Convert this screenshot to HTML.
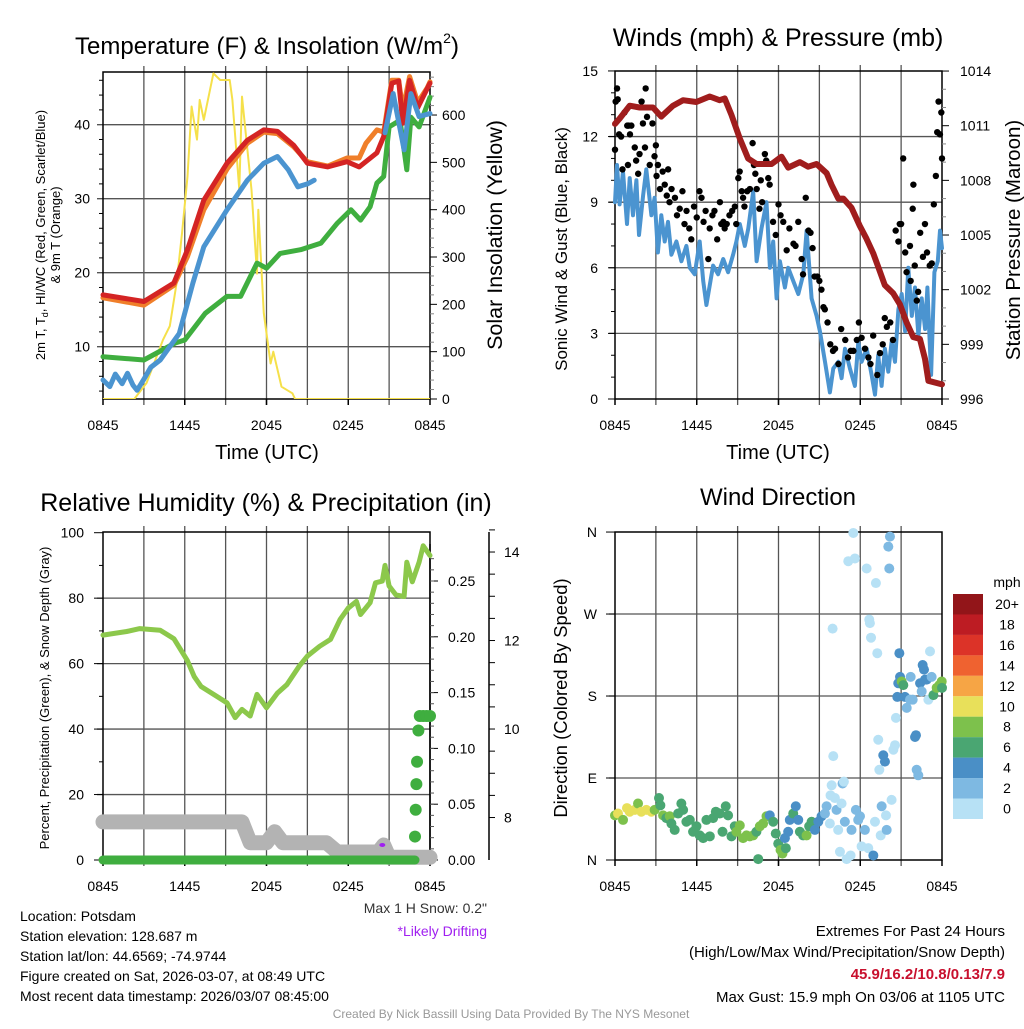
<!DOCTYPE html>
<html><head><meta charset="utf-8">
<style>
html,body{margin:0;padding:0;background:#fff;}
body{width:1024px;height:1024px;overflow:hidden;font-family:"Liberation Sans",sans-serif;}
svg text{font-family:"Liberation Sans",sans-serif;}
</style></head>
<body>
<svg id="chart" width="1024" height="1024" viewBox="0 0 1024 1024" xmlns="http://www.w3.org/2000/svg">
<g id="g"></g>
</svg>
<script>
// ---------- DATA (time = hours since 0845 UTC) ----------
const xTickLabels = ["0845","1445","2045","0245","0845"];
// Temperature panel
const tempT   = [0,3.0,5.2,6.2,7.4,9.1,10.6,11.8,12.8,14.0,15.0,16.5,17.9,18.8,20.1,20.6,21.2,21.7,22.0,22.5,23.1,23.8,24];
const tempV   = [17.0,16.1,18.6,23.1,29.8,34.8,37.9,39.3,39.1,37.2,34.8,34.3,35.0,34.3,36.2,38.4,45.6,45.9,40.2,46.0,42.3,44.9,45.6];
const t9T     = [0,3.0,5.2,6.2,7.4,9.1,10.6,11.8,12.8,14.0,15.0,16.5,17.9,18.8,19.3,20.1,20.6,21.2,21.7,22.0,22.5,23.1,23.8,24];
const t9V     = [16.6,15.6,18.3,22.2,28.5,34.0,37.5,39.0,38.8,37.0,35.0,34.4,35.5,35.5,37.5,39.3,39.0,46.0,46.0,42.0,46.5,43.0,45.0,45.8];
const dewT    = [0,0.5,0.9,1.4,1.8,2.2,2.5,3.0,3.5,4.2,5.6,6.6,7.4,9.1,10.6,11.8,12.8,13.6,14.3,15.0,15.5,null,17.9,null,20.7,21.3,22.1,22.6,23.2,24];
const dewV    = [5.5,4.6,6.3,5.0,6.4,4.8,4.1,5.6,7.2,8.2,11.8,18.6,23.5,28.5,32.5,34.8,35.7,33.9,31.6,32.0,32.5,null,33.2,null,38.9,44.2,36.6,44.2,41.1,41.5];
const hiT     = [0,3.0,5.3,6.0,7.5,9.1,10.1,11.3,12.0,13.0,14.5,16.0,17.2,18.2,18.9,19.6,20.1,20.6,21.0,21.8,22.3,22.6,23.2,24];
const hiV     = [8.65,8.2,10.5,10.9,14.5,16.8,16.8,21.3,20.6,22.6,23.1,24.0,26.7,28.5,27.1,28.9,32.1,33.0,39.7,40.6,33.9,41.0,39.7,43.7];
const solT    = [0,2.3,3.2,4.4,4.9,5.4,5.8,6.2,6.5,6.9,7.1,7.4,8.1,8.6,9.3,9.5,10.0,10.2,10.9,11.3,11.4,11.8,12.3,12.5,13.1,13.9,14.1,24];
const solV    = [0,0,34,125,154,245,350,470,618,548,632,590,688,674,674,632,442,639,442,265,400,181,75,100,26,12,0,0];
// Wind panel
const windT = [0,0.15,0.34,0.59,0.88,1.08,1.32,1.57,1.76,2.06,2.30,2.67,2.91,3.15,3.40,3.65,3.89,4.14,4.51,4.87,5.24,5.49,5.85,6.22,6.47,6.71,7.20,7.57,7.94,8.30,8.67,8.91,9.16,9.53,9.78,10.14,10.39,10.75,11.12,11.37,11.61,11.86,12.10,12.47,12.71,13.08,13.45,13.82,14.06,14.43,14.80,15.04,15.41,15.77,16.02,16.39,16.63,16.88,17.24,17.61,17.86,18.10,18.47,18.83,19.08,19.32,19.57,19.81,20.06,20.30,20.55,20.80,21.04,21.29,21.53,21.78,22.02,22.27,22.51,22.76,22.93,23.20,23.44,23.69,23.85,24];
const windV = [9.0,10.7,8.9,10.4,8.0,10.1,8.4,10.0,7.5,9.3,10.5,8.4,9.2,6.7,8.4,7.2,8.1,6.6,7.2,6.3,7.0,6.0,5.7,7.2,5.4,4.3,6.1,5.7,6.4,5.8,6.6,7.2,8.0,7.0,7.8,9.5,6.3,7.8,9.0,6.0,7.2,4.6,6.3,5.1,6.0,5.4,4.8,5.7,7.7,4.6,3.8,3.1,1.7,0.3,1.4,1.7,0.95,2.3,1.4,0.6,2.6,1.7,2.3,1.1,0.2,2.0,0.6,2.3,1.25,2.6,1.7,4.1,4.8,3.1,6.0,3.8,5.1,2.9,4.6,3.2,5.1,1.1,5.8,6.3,7.7,6.9];
const gustT = [0,0.05,0.15,0.2,0.3,0.45,0.55,0.7,0.9,0.95,1.0,1.1,1.2,1.45,1.55,1.7,1.8,1.95,2.05,2.2,2.25,2.35,2.55,2.75,2.9,3.0,3.05,3.15,3.3,3.5,3.65,3.8,3.9,4.0,4.15,4.4,4.55,4.75,4.95,5.1,5.25,5.45,5.6,5.8,6.0,6.2,6.35,6.5,6.65,6.85,6.95,7.15,7.3,7.5,7.7,7.8,7.95,8.05,8.2,8.4,8.6,8.8,8.9,9.05,9.15,9.3,9.4,9.5,9.7,9.9,10.1,10.2,10.3,10.4,10.6,10.7,10.8,11.0,11.1,11.25,11.35,11.6,11.8,12.0,12.15,12.35,12.6,12.8,13.1,13.25,13.45,13.7,13.8,14.0,14.2,14.35,14.5,14.65,14.85,15.0,15.15,15.3,15.4,15.6,15.8,16.0,16.15,16.4,16.6,16.9,17.1,17.3,17.5,17.75,17.9,18.1,18.35,18.6,18.75,18.95,19.25,19.45,19.65,19.8,19.95,20.2,20.4,20.6,20.8,20.9,21.0,21.15,21.3,21.4,21.65,21.7,21.85,21.9,22.0,22.15,22.25,22.4,22.6,22.75,22.9,23.1,23.25,23.4,23.55,23.65,23.75,23.85,23.95,24];
const gustV = [11.4,13.6,14.2,13.7,12.1,12.0,10.5,13.1,12.5,10.7,12.5,12.1,12.5,11.5,10.9,10.3,11.2,13.6,12.6,11.5,14.2,12.9,10.7,12.6,11.1,11.6,10.2,10.7,9.6,10.4,9.8,9.3,10.5,9.0,9.6,9.2,8.4,8.7,9.5,8.0,8.6,7.8,7.3,8.8,8.3,9.5,9.2,8.1,8.6,6.4,7.8,8.4,8.6,7.3,9.0,8.0,8.1,7.8,8.0,8.4,8.6,8.8,8.0,10.1,10.4,9.5,9.2,8.8,9.5,9.6,11.7,10.7,10.3,9.6,8.7,10.0,9.0,11.2,10.9,10.1,9.8,8.1,7.5,8.9,8.4,8.1,6.8,7.8,7.1,7.0,8.1,6.4,5.7,9.2,7.7,7.6,6.9,5.6,5.6,5.4,5.0,4.2,4.1,3.5,2.5,2.2,2.3,1.6,3.2,2.7,1.9,2.2,2.2,2.7,3.5,2.8,2.3,1.9,1.6,2.9,1.1,2.1,2.5,3.7,3.3,3.5,2.7,7.7,7.2,8.0,8.0,11.0,6.7,5.8,7.0,5.4,8.7,9.8,6.1,4.5,4.9,7.6,6.5,8.0,6.7,6.1,6.2,8.9,10.2,12.2,13.6,12.1,13.1,11.0];
const presT = [0,0.35,1.08,1.81,2.79,3.4,4.26,4.99,5.97,6.95,7.68,8.05,8.54,9.16,9.77,10.39,11.49,12.22,12.71,13.57,14.18,14.8,15.53,15.9,16.39,16.76,17.36,17.97,18.46,18.95,19.44,19.8,20.42,20.91,21.4,21.89,22.38,22.75,23.0,24];
const presV = [1011.1,1011.4,1012.1,1012.0,1012.0,1011.5,1012.1,1012.4,1012.3,1012.6,1012.4,1012.5,1011.6,1010.3,1009.2,1008.9,1008.9,1009.3,1008.7,1009.0,1008.75,1008.9,1008.4,1007.75,1007.0,1007.0,1006.5,1005.5,1004.8,1004.0,1003.0,1002.25,1001.8,1001.2,1000.2,999.4,999.3,998.2,997.0,996.8];
// RH / precip / snow panel
const rhT = [0,1.74,2.7,4.2,5.2,6.18,6.7,7.2,8.4,9.1,9.7,10.2,10.8,11.3,12.0,12.8,13.5,14.4,15.0,15.9,16.7,17.4,18.0,18.6,18.9,19.6,20.0,20.5,20.7,21.0,21.5,22.1,22.3,22.7,23.2,23.5,24];
const rhV = [68.7,69.8,70.7,70.2,67.6,61,56,53,49.9,48,43.5,46,44,50.6,46.5,51,53.6,59.2,62.3,65.3,67.4,73.5,77,79,75,78.6,84.7,85.2,90,83.7,81,80.5,91,85,91,96,93];
const snowT = [0,10.2,10.8,12.0,12.6,13.2,16.4,17.2,20.2,20.6,21.0,24];
const snowV = [7.9,7.9,7.43,7.43,7.68,7.43,7.43,7.22,7.22,7.38,7.1,7.1];
const precipDotT = [22.9,22.95,23.0,23.05,23.15,23.25,23.5,23.75,24.0];
const precipDotV = [0.021,0.045,0.068,0.088,0.116,0.129,0.129,0.129,0.129];
// Wind direction panel
const dirT = [0,0.22,0.59,0.88,1.08,1.45,1.69,1.93,2.3,2.67,2.91,3.23,3.33,3.53,3.77,4.02,4.14,4.38,4.63,4.87,5.0,5.24,5.49,5.73,5.98,6.22,6.47,6.71,6.96,7.2,7.4,7.69,7.89,8.13,8.3,8.55,8.79,8.91,9.16,9.4,9.65,9.89,10.14,10.38,10.63,10.87,11.12,10.51,11.36,11.61,11.8,11.98,12.15,12.29,12.54,12.47,12.71,12.83,13.08,13.27,13.45,13.57,13.81,14.06,14.25,14.43,14.67,14.92,15.16,15.41,15.53,15.77,15.9,15.82,16.02,15.97,16.14,16.26,16.38,16.51,16.63,16.7,16.8,16.87,17.0,17.12,17.29,17.36,17.49,17.61,17.68,17.85,17.98,18.1,18.34,18.47,18.59,18.66,18.71,18.79,18.96,19.08,19.15,19.25,19.32,19.4,19.5,19.57,19.69,19.81,19.89,19.94,20.06,20.13,20.18,20.3,20.43,20.55,20.62,20.72,20.79,20.87,20.92,21.04,21.16,21.28,21.41,21.65,21.7,21.85,22.02,22.09,22.14,22.26,22.39,22.51,22.58,22.68,22.75,22.88,23.0,23.12,23.24,23.37,23.61,23.81,23.98,24];
const dirV = [49,51,44,57,53,55,62,53,55,53,55,68,60,49,46,48,40,33,51,62,55,42,44,31,37,27,24,44,26,46,53,51,31,59,49,26,37,31,38,24,27,26,27,31,37,40,48,1,49,42,29,18,11,7,13,24,31,44,51,59,44,31,27,27,37,42,33,42,48,51,59,40,82,71,114,254,68,55,33,9,62,84,86,42,1,328,5,33,359,331,55,44,48,15,33,320,13,264,260,244,5,42,304,227,132,99,27,59,115,108,49,33,344,320,355,66,121,126,156,179,194,227,201,196,192,179,167,176,201,176,135,137,99,93,194,185,214,209,198,198,176,229,201,181,189,192,196,189];
const dirSpd = [8,10,8,10,10,10,8,10,10,10,8,6,6,8,6,8,6,6,6,6,6,6,6,6,6,6,6,6,6,6,6,6,6,6,6,6,6,8,8,8,8,8,8,6,8,8,8,6,4,6,6,6,8,8,6,4,4,4,6,4,4,6,6,8,6,6,4,4,4,2,2,0,0,0,0,0,0,2,0,0,0,2,0,2,0,0,0,2,0,0,2,2,2,0,2,0,0,0,0,0,4,0,0,0,0,0,0,2,4,4,0,2,2,2,2,0,0,0,0,4,4,4,4,8,6,4,2,2,2,2,4,4,2,2,4,2,4,4,4,4,0,0,2,6,8,8,8,6];
const cbLabels = ["20+","18","16","14","12","10","8","6","4","2","0"];
const cbColors = ["#921519","#bd1c23","#dc3328","#ef6230","#f6a545","#e8e05a","#7dc14c","#4aa672","#4a8fc6","#7eb9e2","#b7e1f5"];

// ---------- SCALES ----------
const PW = 327;
function xL(t){return 103 + t*PW/24;}
function xR(t){return 615 + t*PW/24;}
function yT(v){return 399-(v-2.93)*7.4;}
function yS(w){return 399-w*0.4733;}
function yW(v){return 399-v*21.87;}
function yP(p){return 399-(p-996)*18.22;}
function yRH(v){return 860-v*3.273;}
function yPr(v){return 860-v*1116;}
function ySn(v){return 860-(v-7.04)*44.25;}
function yD(d){return 860-d*0.911;}
function spdColor(s){return cbColors[10-Math.min(10,Math.round(s/2))];}

const NS="http://www.w3.org/2000/svg";
const root=document.getElementById('g');
function el(tag,attrs,parent){const e=document.createElementNS(NS,tag);for(const k in attrs)e.setAttribute(k,attrs[k]);(parent||root).appendChild(e);return e;}
function txt(s,x,y,size,anchor,parent,extra){const e=el('text',Object.assign({x:x,y:y,'font-size':size,'text-anchor':anchor||'middle',fill:'#000'},extra||{}),parent);e.textContent=s;return e;}
function pathFrom(T,V,xf,yf){let d='',pen=false;for(let i=0;i<T.length;i++){if(T[i]===null||V[i]===null){pen=false;continue;}d+=(pen?'L':'M')+xf(T[i]).toFixed(1)+' '+yf(V[i]).toFixed(1)+' ';pen=true;}return d;}

// ---------- generic frame ----------
function frame(x0,name,ys,hlines){
  const g=el('g',{});
  
  
  for(let i=1;i<8;i++){const x=x0+i*PW/8;el('line',{x1:x,x2:x,y1:ys[0]-6,y2:ys[1]+6,stroke:'#555','stroke-width':1.3},g);}
  hlines.forEach(y=>el('line',{x1:x0-6,x2:x0+PW,y1:y,y2:y,stroke:'#555','stroke-width':1.3},g));
  el('rect',{x:x0,y:ys[0],width:PW,height:ys[1]-ys[0],fill:'none',stroke:'#000','stroke-width':1.5},g);
  for(let i=0;i<=8;i+=2){el('line',{x1:x0+i*PW/8,x2:x0+i*PW/8,y1:ys[1],y2:ys[1]+6,stroke:'#000','stroke-width':1.5},g);}
  xTickLabels.forEach((s,i)=>{const l=txt(s,x0+i*PW/4,ys[1]+31,14,'middle',g);});
  return g;
}

// ===== Panel 1: Temperature =====
{const t=el('text',{x:267,y:54,'font-size':24,'text-anchor':'middle',fill:'#000'});


t.innerHTML='Temperature (F) &amp; Insolation (W/m<tspan font-size="14" dy="-11">2</tspan><tspan dy="11">)</tspan>';}
frame(103,'temperature',[72,399],[10,20,30,40].map(yT));
[10,20,30,40].forEach(v=>{const l=txt(String(v),90,yT(v)+5,14,'end');});
for(let v=4;v<=46;v+=2){if(v%10)el('line',{x1:99,x2:103,y1:yT(v),y2:yT(v),stroke:'#000'});}
[0,100,200,300,400,500,600].forEach(v=>{el('line',{x1:430,x2:437,y1:yS(v),y2:yS(v),stroke:'#000'});const l=txt(String(v),442,yS(v)+5,14,'start');});
for(let v=20;v<=680;v+=20){if(v%100)el('line',{x1:430,x2:434,y1:yS(v),y2:yS(v),stroke:'#888'});}
txt('Time (UTC)',267,459,20,'middle');
{const t=el('text',{'font-size':13,'text-anchor':'middle',fill:'#000',transform:'translate(45,235) rotate(-90)'});
t.innerHTML='2m T, T<tspan font-size="9" dy="3">d</tspan><tspan dy="-3">, HI/WC (Red, Green, Scarlet/Blue)</tspan>';}
txt('& 9m T (Orange)',0,0,13,'middle',root,{transform:'translate(60,235) rotate(-90)'});
txt('Solar Insolation (Yellow)',0,0,21.5,'middle',root,{transform:'translate(502,235) rotate(-90)'});
const clip1=el('clipPath',{id:'c1'});el('rect',{x:103,y:72,width:PW,height:327},clip1);
function series(T,V,xf,yf,color,w,name,clip){const p=el('path',{d:pathFrom(T,V,xf,yf),fill:'none',stroke:color,'stroke-width':w,'stroke-linejoin':'round','stroke-linecap':'round','clip-path':clip?'url(#'+clip+')':''});return p;}
series(solT,solV,xL,yS,'#f5e04a',2,'solar-insolation-line','c1');
series(hiT,hiV,xL,yT,'#3fae3f',5,'heat-index-wind-chill-line');
series(t9T,t9V,xL,yT,'#f07f2a',5,'9m-temperature-line');
series(tempT,tempV,xL,yT,'#d42424',5,'2m-temperature-line');
series(dewT,dewV,xL,yT,'#4b94d0',5,'dewpoint-line');

// ===== Panel 2: Winds =====
txt('Winds (mph) & Pressure (mb)',778,46,25,'middle');
frame(615,'winds',[71,399],[3,6,9,12].map(yW));
[0,3,6,9,12,15].forEach(v=>{const l=txt(String(v),598,yW(v)+5,14,'end');el('line',{x1:608,x2:615,y1:yW(v),y2:yW(v),stroke:'#000'});});
for(let v=1;v<15;v++){if(v%3)el('line',{x1:611,x2:615,y1:yW(v),y2:yW(v),stroke:'#000'});}
[996,999,1002,1005,1008,1011,1014].forEach(v=>{el('line',{x1:942,x2:949,y1:yP(v),y2:yP(v),stroke:'#000'});const l=txt(String(v),960,yP(v)+5,14,'start');});
for(let v=997;v<1014;v++){if((v-996)%3)el('line',{x1:942,x2:946,y1:yP(v),y2:yP(v),stroke:'#888'});}
txt('Time (UTC)',778,459,20,'middle');
txt('Sonic Wind & Gust (Blue, Black)',0,0,17,'middle',root,{transform:'translate(567,249) rotate(-90)'});
txt('Station Pressure (Maroon)',0,0,20.5,'middle',root,{transform:'translate(1020,240) rotate(-90)'});
series(windT,windV,xR,yW,'#4b94d0',4,'sonic-wind-line');
{const g=el('g',{});
for(let i=0;i<gustT.length;i++){const c=el('circle',{cx:xR(gustT[i]),cy:yW(gustV[i]),r:3.2,fill:'#000'},g);}}
series(presT,presV,xR,yP,'#a01d1d',6,'pressure-line');

// ===== Panel 3: RH =====
txt('Relative Humidity (%) & Precipitation (in)',266,511,25,'middle');
frame(103,'rh',[532,860],[20,40,60,80].map(yRH));
[0,20,40,60,80,100].forEach(v=>{el('line',{x1:94,x2:103,y1:yRH(v),y2:yRH(v),stroke:'#000'});const l=txt(String(v),84,yRH(v)+5,14,'end');});
for(let v=10;v<100;v+=20)el('line',{x1:99,x2:103,y1:yRH(v),y2:yRH(v),stroke:'#000'});
el('line',{x1:430,x2:430,y1:544,y2:860,stroke:'#000','stroke-width':1.5});
[0,0.05,0.1,0.15,0.2,0.25].forEach(v=>{el('line',{x1:430,x2:438,y1:yPr(v),y2:yPr(v),stroke:'#000'});const l=txt(v.toFixed(2),448,yPr(v)+5,14,'start');});
for(let v=0.01;v<0.28;v+=0.01){el('line',{x1:430,x2:434,y1:yPr(v),y2:yPr(v),stroke:'#555'});}
el('line',{x1:489,x2:489,y1:532,y2:860,stroke:'#000','stroke-width':1.5});
for(let v=8;v<=14.5;v+=0.5){el('line',{x1:489,x2:495,y1:ySn(v),y2:ySn(v),stroke:'#000'});}
[8,10,12,14].forEach(v=>{const l=txt(String(v),504,ySn(v)+5,14,'start');});
txt('Percent, Precipitation (Green), & Snow Depth (Gray)',0,0,13,'middle',root,{transform:'translate(49,698) rotate(-90)'});
series(snowT,snowV,xL,ySn,'#b3b3b3',15,'snow-depth-line');
el('ellipse',{cx:xL(20.5),cy:845,rx:3,ry:2,fill:'#a020f0'});
series(rhT,rhV,xL,yRH,'#8cc84b',5,'relative-humidity-line');
{const p=el('line',{x1:xL(0),x2:xL(22.9),y1:yPr(0),y2:yPr(0),stroke:'#3fae3f','stroke-width':9,'stroke-linecap':'round'});}
for(let i=0;i<precipDotT.length;i++){const c=el('circle',{cx:xL(precipDotT[i]),cy:yPr(precipDotV[i]),r:6,fill:'#3fae3f'});}
txt('Max 1 H Snow: 0.2"',487,913,14,'end',root,{fill:'#333'});
txt('*Likely Drifting',487,936,14,'end',root,{fill:'#a020f0'});

// ===== Panel 4: Direction =====
txt('Wind Direction',778,505,24,'middle');
frame(615,'direction',[532,860],[90,180,270].map(yD));
[['N',0],['E',90],['S',180],['W',270],['N',360]].forEach(a=>{el('line',{x1:606,x2:615,y1:yD(a[1]),y2:yD(a[1]),stroke:'#000'});const l=txt(a[0],597,yD(a[1])+5,14,'end');});
txt('Direction (Colored By Speed)',0,0,18.4,'middle',root,{transform:'translate(567,698) rotate(-90)'});
{const g=el('g',{});
for(let i=0;i<dirT.length;i++){const c=el('circle',{cx:xR(dirT[i]),cy:yD(dirV[i]),r:5,fill:spdColor(dirSpd[i])},g);}}
{const g=el('g',{});
txt('mph',1007,587,14,'middle',g);
cbColors.forEach((c,i)=>{const r=el('rect',{x:953,y:594+i*20.45,width:30,height:20.5,fill:c},g);
 const l=txt(cbLabels[i],1007,594+i*20.45+15,14,'middle',g);});}

// ===== Footer text =====
const info=["Location: Potsdam","Station elevation: 128.687 m","Station lat/lon: 44.6569; -74.9744","Figure created on Sat, 2026-03-07, at 08:49 UTC","Most recent data timestamp: 2026/03/07 08:45:00"];
info.forEach((s,i)=>{const l=txt(s,20,921+i*20,14,'start');});
txt('Extremes For Past 24 Hours',1005,936,15,'end');
txt('(High/Low/Max Wind/Precipitation/Snow Depth)',1005,957,15,'end');
txt('45.9/16.2/10.8/0.13/7.9',1005,979,15,'end',root,{fill:'#c8102e','font-weight':'bold'});
txt('Max Gust: 15.9 mph On 03/06 at 1105 UTC',1005,1002,15,'end');
txt('Created By Nick Bassill Using Data Provided By The NYS Mesonet',511,1018,12,'middle',root,{fill:'#999'});
</script>
</body></html>
